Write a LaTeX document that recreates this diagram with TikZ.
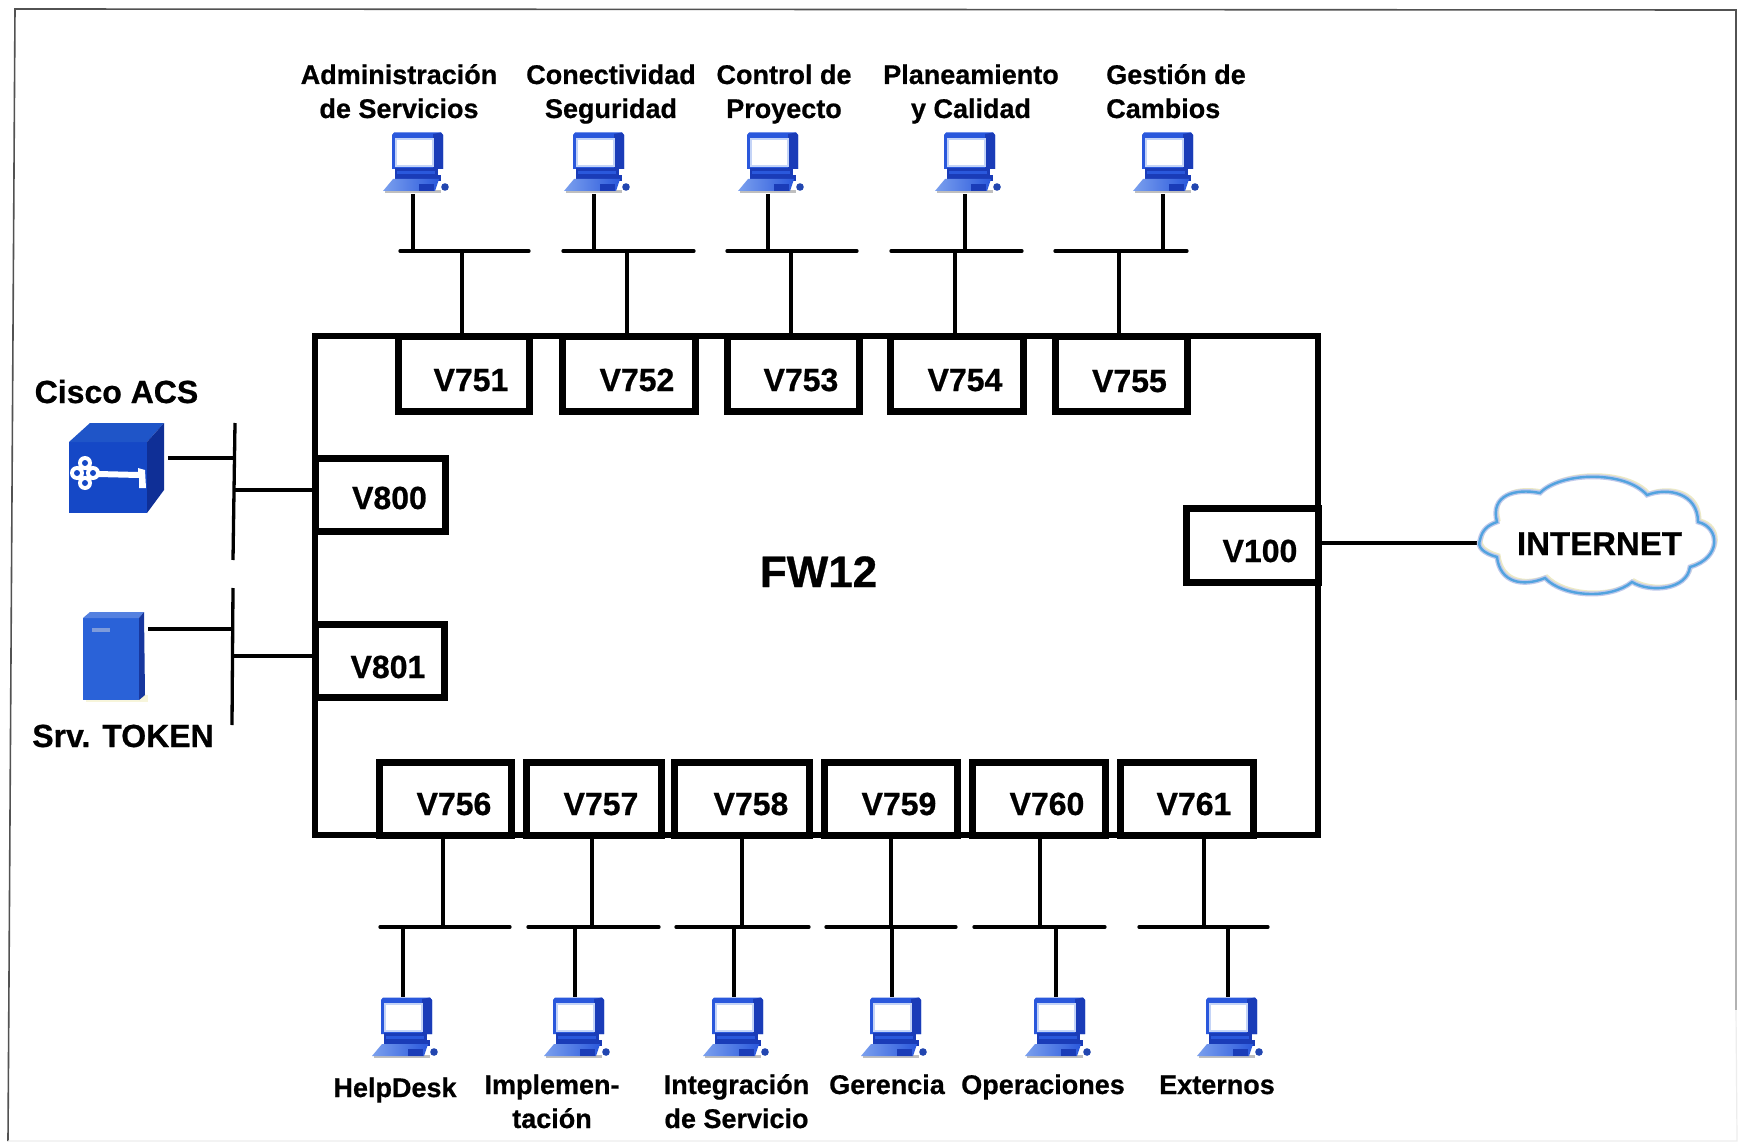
\documentclass[tikz,border=0pt]{standalone}
\usepackage{fontspec}
\setmainfont{Liberation Sans}[BoldFeatures={FakeBold=0.7}]
\definecolor{pcdark}{HTML}{1A3CB8}
\definecolor{pcmid}{HTML}{2A58DC}
\definecolor{pclight}{HTML}{7BA0EE}
\definecolor{cubefront}{HTML}{1548C6}
\definecolor{cubetop}{HTML}{1F55C8}
\definecolor{cubeside}{HTML}{0F2F96}
\definecolor{srvfront}{HTML}{2A62D8}
\definecolor{srvside}{HTML}{17379E}
\tikzset{
  x=1pt,y=-1pt,
  frameline/.style={draw=black!68,line width=1.6pt},
  midline/.style={draw=black!30,line width=1.2pt},
  faintline/.style={draw=black!7,line width=1.2pt},
  fwline/.style={draw=black,line width=5.5pt},
  wire/.style={draw=black,line width=3.3pt},
  vlanbox/.style={draw=black,line width=7pt,fill=white,inner sep=0pt,outer sep=0pt,anchor=north west,align=left,font=\fontsize{32}{34}\selectfont\bfseries},
  lab/.style={font=\fontsize{27}{34}\selectfont\bfseries,inner sep=0pt,align=center,anchor=base},
  biglab/.style={font=\fontsize{32}{34}\selectfont\bfseries,inner sep=0pt,anchor=base},
  iconarea/.style={inner sep=0pt,outer sep=0pt,minimum width=65pt,minimum height=62pt,anchor=north west},
  pcicon/.pic={
    \fill[black!25] (2,58) -- (58,58) -- (58,61) -- (2,61) -- cycle;
    \fill[pcmid] (9,3) -- (11,0.5) -- (58,0.5) -- (60,3) -- (60,37) -- (9,37) -- cycle;
    \fill[pcdark] (50,2) -- (58,0.5) -- (60,3) -- (60,37) -- (50,37) -- cycle;
    \fill[pclight!45!white] (12,6) rectangle (51,35);
    \fill[white] (14,8) rectangle (49,33);
    \fill[pcdark] (12,36) rectangle (55,43);
    \fill[pcmid] (14,39) rectangle (52,42);
    \fill[pcdark] (12,43) rectangle (58,49);
    \shade[left color=pclight,right color=pcmid] (0,59) -- (10,47) -- (56,47) -- (52,59) -- cycle;
    \fill[pcdark] (36,52) rectangle (51,59);
    \fill[pcmid!80!black] (62,55) circle[radius=3.8];
  }
}
\newcommand\vlan[8]{%
  \pgfmathsetmacro\vw{#4-#2}%
  \pgfmathsetmacro\vup{#7-#3}%
  \pgfmathsetmacro\vdn{#5-#7}%
  \pgfmathsetmacro\vof{#6-37.4-#2}%
  \node[vlanbox,text width=\vw pt,text height=\vup pt,text depth=\vdn pt] (#1) at (#2,#3) {\hspace*{\vof pt}#8};%
}
\begin{document}
\begin{tikzpicture}
\useasboundingbox (0,0) rectangle (1738,1142);
\fill[white] (0,0) rectangle (1738,1142);
% outer frame
\coordinate (ftl) at (15,9);
\coordinate (ftr) at (1736,10);
\coordinate (fmr) at (1736,700);
\coordinate (flr) at (1736,1010);
\coordinate (fbr) at (1737,1141);
\coordinate (fbl) at (8,1141);
\draw[frameline] (fbl) -- (ftl) -- (ftr) -- (fmr);
\draw[midline] (fmr) -- (flr);
\draw[faintline] (flr) -- (fbr) -- (fbl);
% firewall body
\draw[fwline] (315,336) rectangle (1318,835);
\node[font=\fontsize{44}{46}\selectfont\bfseries,inner sep=0pt,anchor=base] (fw) at (818.5,587) {FW12};
% VLAN boxes
\vlan{v751}{398.5}{336}{529}{411}{471}{391}{V751}
\vlan{v752}{562}{336}{695}{411}{637}{391}{V752}
\vlan{v753}{727}{336}{859}{411}{801}{391}{V753}
\vlan{v754}{890}{336}{1023}{411}{965}{391}{V754}
\vlan{v755}{1055}{336}{1187}{411}{1129.5}{392}{V755}
\vlan{v800}{315}{458}{445.5}{531}{389.5}{509}{V800}
\vlan{v801}{315}{624.5}{444.5}{697.5}{388}{678}{V801}
\vlan{v100}{1186}{508}{1318}{582}{1260}{562}{V100}
\vlan{v756}{379.5}{762}{511.5}{835}{454}{815}{V756}
\vlan{v757}{526}{762}{661}{835}{601}{815}{V757}
\vlan{v758}{674.5}{762}{809}{835}{751}{815}{V758}
\vlan{v759}{824}{762}{957.5}{835}{899}{815}{V759}
\vlan{v760}{972.5}{762}{1105}{835}{1047}{815}{V760}
\vlan{v761}{1120}{762}{1253}{835}{1194}{815}{V761}
% top workstations
\node[iconarea] (pc1) at (383,132) {};
\node[iconarea] (pc2) at (564,132) {};
\node[iconarea] (pc3) at (738,132) {};
\node[iconarea] (pc4) at (935,132) {};
\node[iconarea] (pc5) at (1133,132) {};
\foreach \p in {pc1,pc2,pc3,pc4,pc5} {\pic at (\p.north west) {pcicon};}
% bottom workstations
\node[iconarea] (pc6) at (372,997) {};
\node[iconarea] (pc7) at (544,997) {};
\node[iconarea] (pc8) at (703,997) {};
\node[iconarea] (pc9) at (861,997) {};
\node[iconarea] (pc10) at (1025,997) {};
\node[iconarea] (pc11) at (1197,997) {};
\foreach \p in {pc6,pc7,pc8,pc9,pc10,pc11} {\pic at (\p.north west) {pcicon};}
% top buses
\foreach \n/\l/\r/\d/\j/\pc/\v in {1/400/529/413/462/pc1/v751,2/563/694/594/627/pc2/v752,3/727/857/768/791/pc3/v753,4/891/1022/965/955/pc4/v754,5/1055/1187/1163/1119/pc5/v755} {
  \coordinate (ta\n) at (\l,251);
  \coordinate (tb\n) at (\r,251);
  \coordinate (td\n) at (\d,251);
  \coordinate (tj\n) at (\j,251);
  \draw[wire,line cap=round] (ta\n) -- (tb\n);
  \draw[wire] (td\n) -- (td\n |- \pc.south);
  \draw[wire] (tj\n) -- (tj\n |- \v.north);
}
% bottom buses
\foreach \n/\l/\r/\d/\j/\pc/\v in {1/380/510/403/443/pc6/v756,2/528/659/575/592/pc7/v757,3/676/809/734/742/pc8/v758,4/826/956/892/891/pc9/v759,5/974/1105/1056/1040/pc10/v760,6/1139/1268/1228/1204/pc11/v761} {
  \coordinate (ba\n) at (\l,927);
  \coordinate (bb\n) at (\r,927);
  \coordinate (bd\n) at (\d,927);
  \coordinate (bj\n) at (\j,927);
  \draw[wire,line cap=round] (ba\n) -- (bb\n);
  \draw[wire] (bd\n) -- (bd\n |- \pc.north);
  \draw[wire] (bj\n) -- (bj\n |- \v.south);
}
% Cisco ACS cube
\node[inner sep=0pt,outer sep=0pt,minimum width=99pt,minimum height=90pt,anchor=north west] (acs) at (69,423) {};
\fill[cubefront] (69,442) -- (147,442) -- (147,513) -- (69,513) -- cycle;
\fill[cubetop] (69,442) -- (90,423) -- (164,423) -- (147,442) -- cycle;
\fill[cubeside] (147,442) -- (164,423) -- (164,490) -- (147,513) -- cycle;
\fill[white] (85,463) circle[radius=7] (77,473) circle[radius=7] (93,473) circle[radius=7] (85,483) circle[radius=7];
\fill[cubefront] (85,463) circle[radius=3] (77,473) circle[radius=3] (93,473) circle[radius=3] (85,483) circle[radius=3];
\fill[white] (98,471) -- (138,472) -- (138,468) -- (145,470) -- (146,488) -- (139,488) -- (139,478) -- (98,477) -- cycle;
% token server
\node[inner sep=0pt,outer sep=0pt,minimum width=65pt,minimum height=90pt,anchor=north west] (srv) at (83,612) {};
\fill[black!25!yellow!15!white] (86,695) -- (148,695) -- (148,702) -- (86,702) -- cycle;
\fill[srvfront] (83,618) -- (139,618) -- (139,700) -- (83,700) -- cycle;
\fill[srvfront!80!white] (83,618) -- (90,612) -- (144,612) -- (139,618) -- cycle;
\fill[srvside] (139,618) -- (144,612) -- (145,695) -- (139,700) -- cycle;
\fill[black!10!srvfront!60!white] (92,628) rectangle (110,632);
% left buses
\coordinate (la) at (235,423);
\coordinate (lb) at (233,560);
\coordinate (lc) at (234,490);
\coordinate (ld) at (234,458);
\coordinate (le) at (233,588);
\coordinate (lf) at (232,725);
\coordinate (lg) at (233,656);
\coordinate (lh) at (233,629);
\draw[wire] (la) -- (lb);
\draw[wire] (le) -- (lf);
\draw[wire] (lc) -- (lc -| v800.west);
\draw[wire] (lg) -- (lg -| v801.west);
\draw[wire] (ld) -- (ld -| acs.east);
\draw[wire] (lh) -- (lh -| srv.east);
% cloud
\node[inner sep=0pt,outer sep=0pt,minimum width=235pt,minimum height=118pt] (inet) at (1597.5,536) {};
\draw[wire] (inet.west |- 0,543) -- (v100.east |- 0,543);
\def\cloudpath{(1480,540) .. controls (1482,530) and (1488,525) .. (1497,522)
  .. controls (1490,495) and (1515,488) .. (1540,493)
  .. controls (1560,472) and (1625,470) .. (1647,495)
  .. controls (1668,487) and (1698,493) .. (1698,522)
  .. controls (1720,527) and (1722,558) .. (1690,567)
  .. controls (1687,590) and (1650,593) .. (1632,582)
  .. controls (1610,600) and (1563,597) .. (1545,578)
  .. controls (1523,587) and (1500,583) .. (1497,557)
  .. controls (1483,553) and (1477,547) .. (1480,540) -- cycle}
\fill[white] \cloudpath;
\begin{scope}[xshift=2pt,yshift=2pt]
\draw[draw=black!35!yellow!25!white,line width=3pt] \cloudpath;
\end{scope}
\draw[draw=cyan!40!blue!25!white,line width=5pt] \cloudpath;
\draw[draw=cyan!70!blue!70!white,line width=2.4pt] \cloudpath;
\node[biglab,font=\fontsize{33}{35}\selectfont\bfseries] (inett) at (1599.5,555) {INTERNET};
% labels
\node[biglab] (acst) at (116.5,403) {Cisco ACS};
\node[biglab] (srvt) at (123,747) {Srv. TOKEN};
\node[lab] (t1) at (399,118) {Administración\\de Servicios};
\node[lab] (t2) at (611,118) {Conectividad\\Seguridad};
\node[lab] (t3) at (784,118) {Control de\\Proyecto};
\node[lab] (t4) at (971,118) {Planeamiento\\y Calidad};
\node[lab,align=left] (t5) at (1176,118) {Gestión de\\Cambios};
\node[lab] (b1) at (395,1097) {HelpDesk};
\node[lab] (b2) at (552,1128) {Implemen-\\tación};
\node[lab] (b3) at (736.5,1128) {Integración\\de Servicio};
\node[lab] (b4) at (887,1094) {Gerencia};
\node[lab] (b5) at (1043,1094) {Operaciones};
\node[lab] (b6) at (1217,1094) {Externos};
\end{tikzpicture}
\end{document}
